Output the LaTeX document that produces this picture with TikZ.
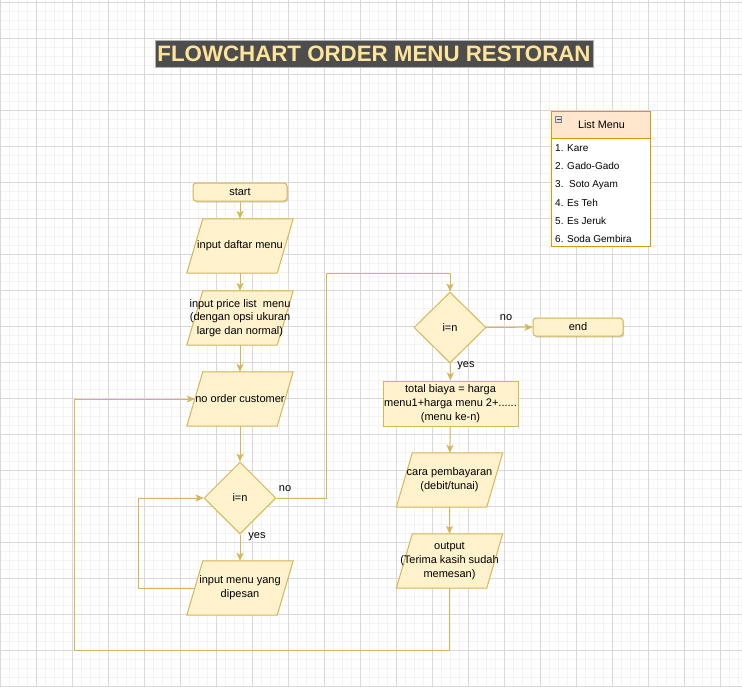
\documentclass[tikz,border=0pt]{standalone}
\usepackage{fontspec}
\setmainfont{Liberation Sans}
\usetikzlibrary{shapes.geometric,arrows.meta,backgrounds,shadows}
\definecolor{fillY}{HTML}{FFF2CC}
\definecolor{strokeY}{HTML}{D6B656}
\definecolor{fillO}{HTML}{FFE6CC}
\definecolor{strokeO}{HTML}{D79B00}
\definecolor{titleBg}{HTML}{4D4D4D}
\definecolor{titleFg}{HTML}{FFE599}
\definecolor{gridMinor}{HTML}{F3F3F3}
\definecolor{gridMajor}{HTML}{D9D9D9}
\tikzset{
  base/.style={draw=strokeY, fill=fillY, line width=1pt, font=\fontsize{11}{13.8}\selectfont, align=center, inner sep=1pt},
  termbox/.style={base, rectangle, rounded corners=3pt, minimum width=94pt, minimum height=18pt, drop shadow={shadow xshift=1.2pt, shadow yshift=-1.5pt, opacity=0.25, fill=black!60}},
  procbox/.style={base, rectangle, minimum width=135pt, minimum height=45pt},
  iobox/.style={rectangle, font=\fontsize{11}{13.8}\selectfont, align=center, inner sep=0pt, minimum width=106pt, minimum height=54pt},
  parashape/.style={draw=strokeY, fill=fillY, line width=1pt, line join=miter},
  decbox/.style={base, diamond, minimum width=72pt, minimum height=72pt, inner sep=0pt},
  flow/.style={draw=strokeY, line width=1pt, -{Stealth[length=8pt,width=7pt,inset=2pt]}},
  lbl/.style={font=\fontsize{11}{13}\selectfont, inner sep=0pt},
  item/.style={font=\fontsize{10}{12}\selectfont, inner sep=0pt, anchor=base west}
}
\newcommand{\parafill}[1]{\path[parashape] (#1.south west) -- ([xshift=-16pt]#1.south east) -- (#1.north east) -- ([xshift=16pt]#1.north west) -- cycle;}
\begin{document}
\begin{tikzpicture}[x=1pt,y=-1pt]
\useasboundingbox (0,0) rectangle (742,686);

% title
\node[draw=black!30, fill=titleBg, text=titleFg, font=\fontsize{22.3}{24}\bfseries, minimum width=438pt, minimum height=27pt, inner sep=0pt] (title) at (374,53.5) {FLOWCHART ORDER MENU RESTORAN};

% list menu
\node[draw=strokeO, fill=white, line width=0.8pt, minimum width=99pt, minimum height=108pt, inner sep=0pt] (lbody) at (600.5,192) {};
\node[draw=strokeO, fill=fillO, line width=0.8pt, minimum width=99pt, minimum height=27pt, inner sep=0pt, font=\fontsize{10.8}{12}\selectfont] (lhead) at (600.5,124.5) {\hspace*{2pt}List Menu};
\node[draw=black!50, fill=black!12, line width=0.5pt, minimum size=6pt, inner sep=0pt] (licon) at (558.5,119.5) {};
\draw[black!70, line width=0.8pt] (556.5,119.5) -- (560.5,119.5);
\node[item] (i1) at (555,151.5) {1. Kare};
\node[item] (i2) at (555,169.7) {2. Gado-Gado};
\node[item] (i3) at (555,187.9) {3.\ \ Soto Ayam};
\node[item] (i4) at (555,206.1) {4. Es Teh};
\node[item] (i5) at (555,224.3) {5. Es Jeruk};
\node[item] (i6) at (555,242.5) {6. Soda Gembira};

% left column
\node[termbox] (start) at (240,192) {start};
\node[iobox] (p1) at (240,246) {input daftar menu};
\node[iobox] (p2) at (240,318) {input price list\ \ menu\\(dengan opsi ukuran\\large dan normal)};
\node[iobox] (p3) at (240,399) {no order customer};
\node[decbox] (d1) at (240,498) {i=n};
\node[iobox] (p4) at (240,588) {input menu yang\\dipesan};

% right column
\node[decbox, minimum height=71pt] (d2) at (450,327.5) {i=n};
\node[termbox, minimum width=90pt] (end) at (578,327) {end};
\node[procbox] (tot) at (450.5,403.5) {total biaya = harga\\menu1+harga menu 2+......\\(menu ke-n)};
\node[iobox] (p5) at (449.5,480) {cara pembayaran\\(debit/tunai)};
\node[iobox] (p6) at (449.5,561) {output\\(Terima kasih sudah\\memesan)};

\begin{scope}[on background layer]
\fill[white] (0,0) rectangle (742,686);
\foreach \x in {0,9,...,738} \draw[gridMinor,line width=0.8pt] (\x,0) -- (\x,686);
\foreach \y in {2,11,...,686} \draw[gridMinor,line width=0.8pt] (0,\y) -- (742,\y);
\foreach \x in {0,36,...,738} \draw[gridMajor,line width=0.8pt] (\x,0) -- (\x,686);
\foreach \y in {2,38,...,686} \draw[gridMajor,line width=0.8pt] (0,\y) -- (742,\y);
\parafill{p1}
\parafill{p2}
\parafill{p3}
\parafill{p4}
\parafill{p5}
\parafill{p6}
\end{scope}

% helper coordinates
\coordinate (c1) at (138,588);
\coordinate (c2) at (326,273);
\coordinate (c3) at (74,650);

% connectors
\draw[flow] (start) -- (p1);
\draw[flow] (p1) -- (p2);
\draw[flow] (p2) -- (p3);
\draw[flow] (p3) -- (d1);
\draw[flow] (d1) -- (p4);
\draw[flow] ([xshift=8pt]p4.west) -- (c1) |- (d1.west);
\draw[flow] (d1.east) -| (c2) -| (d2.north);
\draw[flow] (d2) -- (end);
\draw[flow] (d2) -- (tot);
\draw[flow] (tot) -- (p5);
\draw[flow] (p5) -- (p6);
\draw[flow] (p6.south) |- (c3) |- ([xshift=8pt]p3.west);

% labels
\node[lbl] (ln1) at (285,489) {no};
\node[lbl] (ly1) at (257,537) {yes};
\node[lbl] (ln2) at (506,318) {no};
\node[lbl] (ly2) at (466,366) {yes};
\end{tikzpicture}
\end{document}
